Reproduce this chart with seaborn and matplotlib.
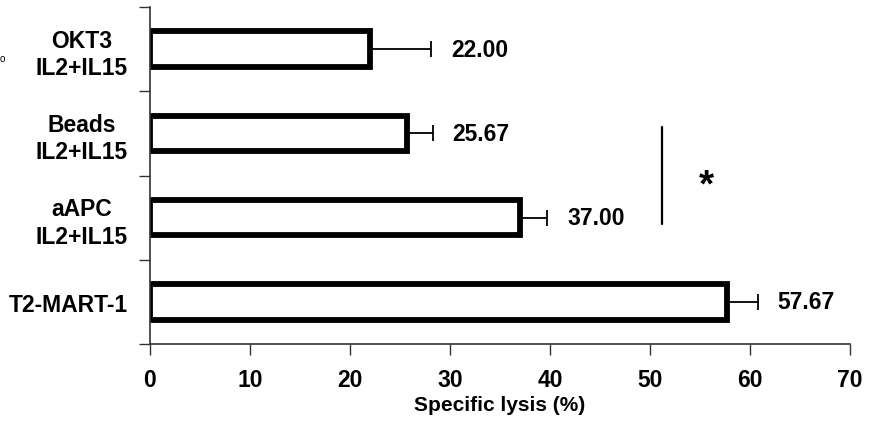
import matplotlib
matplotlib.use("Agg")
import matplotlib.pyplot as plt
import seaborn as sns
import pandas as pd
from matplotlib import font_manager

categories = ["OKT3\nIL2+IL15", "Beads\nIL2+IL15", "aAPC\nIL2+IL15", "T2-MART-1"]
values = [22.00, 25.67, 37.00, 57.67]
errors = [6.1, 2.6, 2.7, 3.1]
value_labels = ["22.00", "25.67", "37.00", "57.67"]
x_ticks = [0, 10, 20, 30, 40, 50, 60, 70]

sns.set_theme(style="white")
names = {f.name for f in font_manager.fontManager.ttflist}
fam = "Liberation Sans Narrow" if "Liberation Sans Narrow" in names else "Liberation Sans"
plt.rcParams["font.family"] = [fam, "DejaVu Sans"]
plt.rcParams["text.color"] = "black"
plt.rcParams["xtick.color"] = "black"
plt.rcParams["ytick.color"] = "black"
plt.rcParams["axes.labelcolor"] = "black"

df = pd.DataFrame({"group": categories, "lysis": values})

fig = plt.figure(figsize=(8.69, 4.31), dpi=100)
ax = fig.add_axes([150 / 869, 1 - 345 / 431, 700 / 869, 337 / 431])

sns.barplot(data=df, x="lysis", y="group", orient="h", order=categories,
            color="white", edgecolor="black", linewidth=4.2, width=0.42,
            errorbar=None, ax=ax)

ypos = list(range(len(categories)))
ax.errorbar(values, ypos, xerr=[[0] * len(values), errors], fmt="none",
            ecolor="black", elinewidth=1.3, capsize=6, capthick=1.3, zorder=1)

for v, e, y, lab in zip(values, errors, ypos, value_labels):
    ax.text(v + e + 2.0, y, lab, va="center", ha="left", fontsize=16.5,
            fontweight="bold", color="black")

ax.set_xlim(0, 70)
ax.set_ylim(len(categories) - 0.5, -0.5)
ax.set_xticks(x_ticks)
ax.set_xticklabels([str(t) for t in x_ticks], fontsize=16.5, fontweight="bold")
ax.set_yticks(ypos)
ax.set_yticklabels(categories, fontsize=16.5, fontweight="bold", linespacing=1.25)
ax.set_yticks([-0.5, 0.5, 1.5, 2.5, 3.5], minor=True)
ax.tick_params(axis="y", which="major", length=0, pad=16)
ax.tick_params(axis="y", which="minor", length=8, width=1, color="#333333", direction="out", left=True)
ax.tick_params(axis="x", which="major", length=8, width=1, color="#333333", direction="out", bottom=True, pad=9)
for lab in ax.get_yticklabels():
    lab.set_multialignment("center")
ax.set_xlabel("Specific lysis (%)", fontsize=15, fontweight="bold", labelpad=3)
ax.set_ylabel("")

for s in ["top", "right"]:
    ax.spines[s].set_visible(False)
for s in ["left", "bottom"]:
    ax.spines[s].set_color("#333333")
    ax.spines[s].set_linewidth(1.2)

# significance bracket and asterisk
ax.plot([51.2, 51.2], [0.93, 2.08], color="black", lw=1.6)
ax.text(55.6, 1.62, "*", ha="center", va="center", fontsize=28, fontweight="bold")

fig.text(0.0, 1 - 59 / 431, "o", fontsize=7, va="center", ha="left")

fig.savefig("out.png", dpi=100)
